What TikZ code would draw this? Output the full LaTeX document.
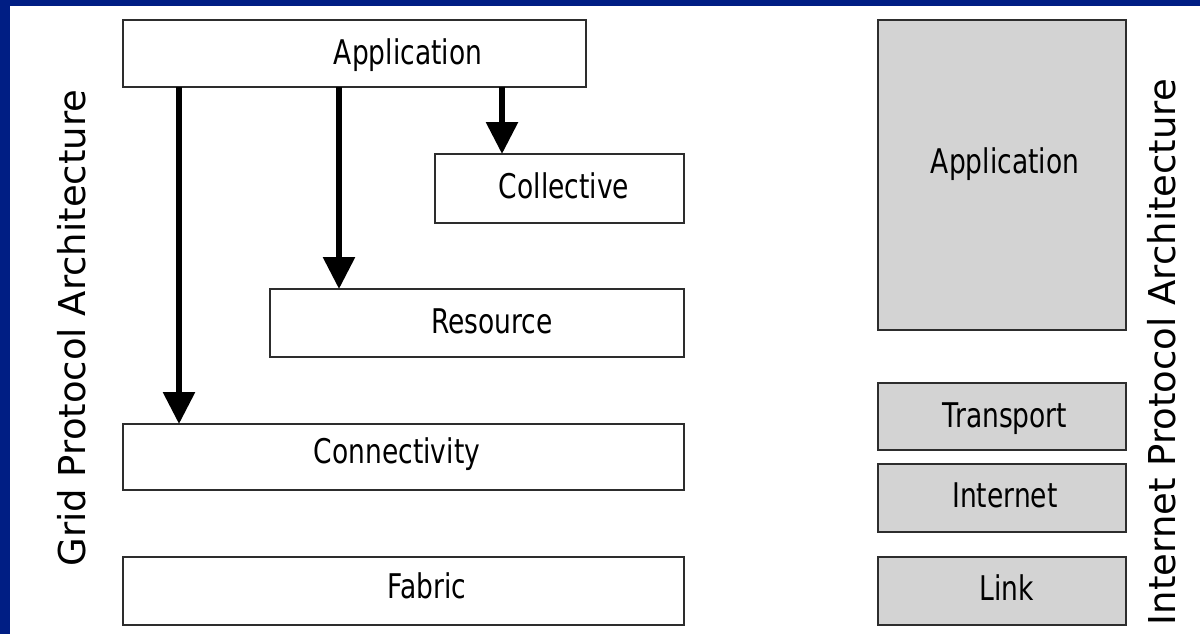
\documentclass[tikz,border=0pt]{standalone}
\usepackage{fontspec}
\usetikzlibrary{arrows.meta}
\newfontfamily\layerfont[FakeStretch=0.78]{DejaVu Sans}
\newfontfamily\titlefont{DejaVu Sans}
\definecolor{slideblue}{RGB}{0,30,132}
\definecolor{layergray}{RGB}{211,211,211}
\definecolor{edgegray}{RGB}{45,45,45}
\tikzset{
  layer/.style={draw=edgegray, line width=2pt, rectangle, inner sep=0pt, outer sep=0pt},
  gridlayer/.style={layer, fill=white},
  iplayer/.style={layer, fill=layergray},
  layertext/.style={anchor=base, inner sep=0pt, font=\layerfont\fontsize{34}{40}\selectfont},
  archtitle/.style={anchor=base, rotate=90, inner sep=0pt, font=\titlefont\fontsize{37}{44}\selectfont},
  calls/.style={line width=6pt, -{Triangle[width=31pt,length=32pt]}}
}
\begin{document}
\begin{tikzpicture}[x=1pt, y=-1pt]
  \useasboundingbox (0,0) rectangle (1200,634);
  \fill[white] (0,0) rectangle (1200,634);
  % slide frame
  \fill[slideblue] (0,0) rectangle (1200,6);
  \fill[slideblue] (0,0) rectangle (10,634);

  % Grid protocol stack
  \node[gridlayer, minimum width=463pt, minimum height=67pt] (appL)  at (354.5,53.5) {};
  \node[gridlayer, minimum width=249pt, minimum height=69pt] (coll)  at (559.5,188.5) {};
  \node[gridlayer, minimum width=414pt, minimum height=68pt] (res)   at (477,323) {};
  \node[gridlayer, minimum width=561pt, minimum height=66pt] (conn)  at (403.5,457) {};
  \node[gridlayer, minimum width=561pt, minimum height=68pt] (fab)   at (403.5,591) {};

  \node[layertext] (appL-t) at (408,65)  {Application};
  \node[layertext] (coll-t) at (564,198) {Collective};
  \node[layertext] (res-t)  at (492,333) {Resource};
  \node[layertext] (conn-t) at (397,463) {Connectivity};
  \node[layertext] (fab-t)  at (427,598) {Fabric};

  % Internet protocol stack
  \node[iplayer, minimum width=248pt, minimum height=310pt] (appR)  at (1002,175) {};
  \node[iplayer, minimum width=248pt, minimum height=67pt]  (trans) at (1002,416.5) {};
  \node[iplayer, minimum width=248pt, minimum height=68pt]  (inet)  at (1002,498) {};
  \node[iplayer, minimum width=248pt, minimum height=68pt]  (link)  at (1002,591) {};

  \node[layertext] (appR-t)  at (1005,173) {Application};
  \node[layertext] (trans-t) at (1005,427) {Transport};
  \node[layertext] (inet-t)  at (1005,507) {Internet};
  \node[layertext] (link-t)  at (1007,600) {Link};

  % application calls into lower layers
  \draw[calls] ([xshift=67pt]coll.north west |- appL.south) -- ([xshift=67pt]coll.north west);
  \draw[calls] ([xshift=69pt]res.north west |- appL.south) -- ([xshift=69pt]res.north west);
  \draw[calls] ([xshift=56pt]conn.north west |- appL.south) -- ([xshift=56pt]conn.north west);

  % stack titles
  \node[archtitle] (gridtitle) at (85,328)   {Grid Protocol Architecture};
  \node[archtitle] (iptitle)   at (1175,352) {Internet Protocol Architecture};
\end{tikzpicture}
\end{document}
